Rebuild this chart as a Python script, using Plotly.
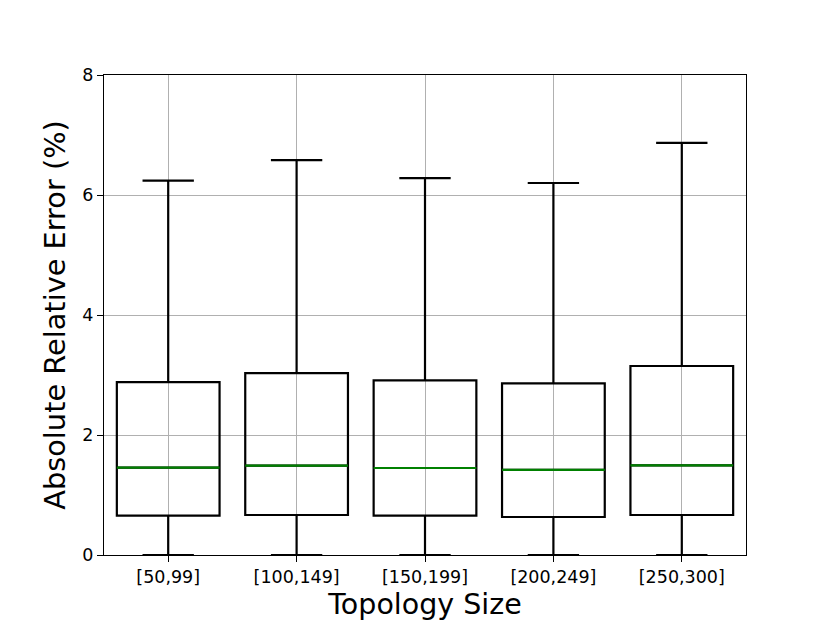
import plotly.graph_objects as go

# box statistics (percent)
labels = ["[50,99]", "[100,149]", "[150,199]", "[200,249]", "[250,300]"]
positions = [1, 2, 3, 4, 5]
q1 = [0.655, 0.667, 0.655, 0.633, 0.667]
median = [1.455, 1.49, 1.45, 1.42, 1.495]
q3 = [2.88, 3.03, 2.91, 2.86, 3.15]
lower = [0.0, 0.0, 0.0, 0.0, 0.0]
upper = [6.24, 6.58, 6.28, 6.2, 6.87]

box_w = 0.8

fig = go.Figure()
fig.add_trace(go.Box(
    x=positions, q1=q1, median=median, q3=q3,
    lowerfence=lower, upperfence=upper,
    width=box_w, whiskerwidth=0.5,
    line=dict(color="black", width=2.2),
    fillcolor="rgba(0,0,0,0)",
    boxpoints=False, hoverinfo="skip", showlegend=False,
))

# green median lines on top of the boxes
mx, my = [], []
for p, m in zip(positions, median):
    mx += [p - box_w / 2, p + box_w / 2, None]
    my += [m, m, None]
fig.add_trace(go.Scatter(x=mx, y=my, mode="lines",
                         line=dict(color="green", width=2.2),
                         showlegend=False, hoverinfo="skip"))

font = "DejaVu Sans"
fig.update_layout(
    width=830, height=623,
    margin=dict(l=96, r=92, t=67, b=76),
    paper_bgcolor="white", plot_bgcolor="white",
    font=dict(family=font, color="black"),
)
fig.update_xaxes(
    range=[0.5, 5.5], tickvals=positions, ticktext=labels,
    tickfont=dict(size=17.5), ticks="outside", ticklen=6, tickcolor="black",
    showgrid=True, gridcolor="#b0b0b0", gridwidth=1,
    showline=True, linecolor="black", linewidth=1.2, mirror=True,
    zeroline=False,
    title=dict(text="Topology Size", font=dict(size=28.5), standoff=7),
)
fig.update_yaxes(
    range=[0, 8], tickvals=[0, 2, 4, 6, 8],
    tickfont=dict(size=17.5), ticks="outside", ticklen=6, tickcolor="black",
    showgrid=True, gridcolor="#b0b0b0", gridwidth=1,
    showline=True, linecolor="black", linewidth=1.2, mirror=True,
    zeroline=False,
    title=dict(text="Absolute Relative Error (%)", font=dict(size=28.8), standoff=8),
)

fig.write_html("out.html")
